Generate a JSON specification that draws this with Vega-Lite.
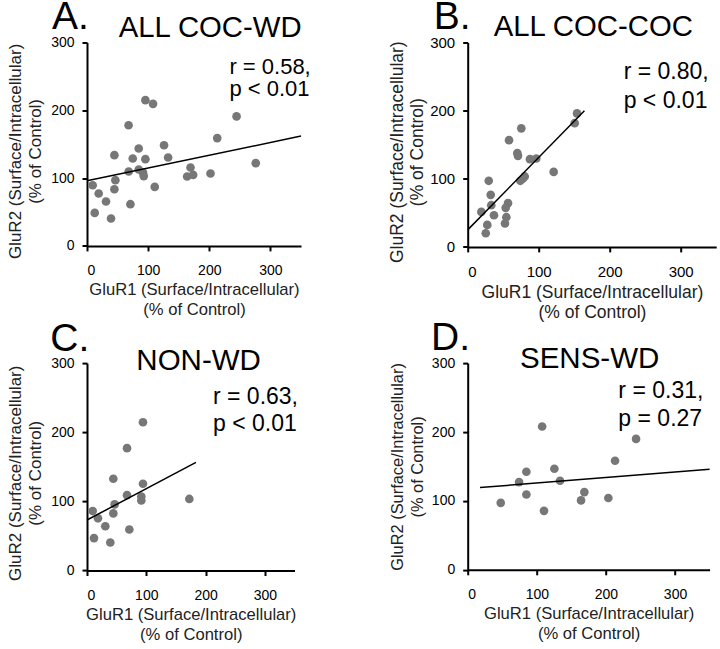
{
  "$schema": "https://vega.github.io/schema/vega-lite/v6.json",
  "background": "white",
  "padding": {"left": 6, "top": -2.5, "right": 0, "bottom": 0},
  "config": {
    "font": "Liberation Sans",
    "view": {"stroke": null},
    "text": {"align": "left", "baseline": "alphabetic", "color": "black"},
    "axis": {
      "grid": false,
      "domainColor": "black",
      "domainWidth": 2,
      "tickColor": "black",
      "tickWidth": 2,
      "tickSize": 5,
      "labelFontSize": 14,
      "labelColor": "black",
      "titleFontSize": 16.6,
      "titleFontWeight": "normal",
      "titleColor": "#222222",
      "titleLineHeight": 20
    },
    "axisX": {"labelPadding": 13, "titlePadding": 4},
    "axisY": {"labelPadding": 8, "titlePadding": 6, "titleFontSize": 17}
  },
  "datasets": {
    "A": [
      {"x": 95.5, "y": 215}, {"x": 108, "y": 209.5}, {"x": 68, "y": 178}, {"x": 244.6, "y": 191},
      {"x": 213, "y": 159}, {"x": 126, "y": 148.5}, {"x": 84.6, "y": 143.6}, {"x": 44.8, "y": 133.8},
      {"x": 74.8, "y": 128.9}, {"x": 95.5, "y": 127.9}, {"x": 132.7, "y": 130.4}, {"x": 68.2, "y": 109.7},
      {"x": 84.6, "y": 112.7}, {"x": 91.7, "y": 108}, {"x": 92.8, "y": 103}, {"x": 169.3, "y": 115.6},
      {"x": 163.8, "y": 102.4}, {"x": 173.6, "y": 104.7}, {"x": 202, "y": 106.8}, {"x": 276, "y": 122},
      {"x": 46.4, "y": 96.9}, {"x": 110.8, "y": 87}, {"x": 9.3, "y": 89.5}, {"x": 44.8, "y": 83.6},
      {"x": 19.1, "y": 77.3}, {"x": 31.1, "y": 65.5}, {"x": 71, "y": 61.5}, {"x": 12.6, "y": 48.7},
      {"x": 39.3, "y": 40.4}
    ],
    "A_line": [{"x": 0, "y": 96}, {"x": 350, "y": 162}],
    "B": [
      {"x": 154, "y": 195.9}, {"x": 150.7, "y": 181.6}, {"x": 75.5, "y": 174}, {"x": 58.2, "y": 156.7},
      {"x": 69.9, "y": 137.6}, {"x": 70.8, "y": 133.6}, {"x": 87.7, "y": 128.8}, {"x": 96.6, "y": 129.8},
      {"x": 121.1, "y": 110.1}, {"x": 80.3, "y": 103.4}, {"x": 74.1, "y": 97}, {"x": 77.5, "y": 100},
      {"x": 29.6, "y": 97}, {"x": 32.4, "y": 76.4}, {"x": 33.2, "y": 61.2}, {"x": 56.8, "y": 64.2},
      {"x": 53.5, "y": 57.3}, {"x": 19.2, "y": 51.4}, {"x": 37, "y": 46.5}, {"x": 54.4, "y": 43.6},
      {"x": 52.5, "y": 34.4}, {"x": 27.6, "y": 32.3}, {"x": 25.4, "y": 20.1}
    ],
    "B_line": [{"x": 0, "y": 25}, {"x": 164.4, "y": 199.7}],
    "C": [
      {"x": 94.4, "y": 214.5}, {"x": 67.5, "y": 177}, {"x": 44.4, "y": 132.7}, {"x": 94.4, "y": 125.5},
      {"x": 67.5, "y": 109}, {"x": 91.6, "y": 107}, {"x": 91.6, "y": 101.3}, {"x": 46.6, "y": 95.6},
      {"x": 44.4, "y": 82.6}, {"x": 9.6, "y": 86}, {"x": 18.5, "y": 75.5}, {"x": 30.9, "y": 64},
      {"x": 71.4, "y": 59.3}, {"x": 11.8, "y": 46.9}, {"x": 39.3, "y": 40.5}, {"x": 172.6, "y": 103.5}
    ],
    "C_line": [{"x": 0, "y": 73}, {"x": 183.8, "y": 156.5}],
    "D": [
      {"x": 107.7, "y": 208}, {"x": 243.6, "y": 190}, {"x": 213.2, "y": 158.3}, {"x": 84.9, "y": 142.3},
      {"x": 125.4, "y": 146.6}, {"x": 74.3, "y": 127.3}, {"x": 133.6, "y": 129.3}, {"x": 84.9, "y": 109.3},
      {"x": 168.8, "y": 112.8}, {"x": 47.8, "y": 97.2}, {"x": 164, "y": 100.7}, {"x": 203.5, "y": 104.2},
      {"x": 110.4, "y": 85.6}
    ],
    "D_line": [{"x": 17.8, "y": 119.4}, {"x": 350, "y": 146}]
  },
  "bounds": "flush",
  "columns": 2,
  "spacing": {"row": 115.6, "column": 166.7},
  "concat": [
    {
      "width": 214, "height": 203.4,
      "layer": [
        {"data": {"name": "A"}, "mark": {"type": "circle", "color": "#777777", "opacity": 1, "size": 75},
         "encoding": {
           "x": {"field": "x", "type": "quantitative", "scale": {"domain": [0, 350], "nice": false, "zero": false}, "axis": {"values": [0, 100, 200, 300], "title": ["GluR1 (Surface/Intracellular)", "(% of Control)"]}},
           "y": {"field": "y", "type": "quantitative", "scale": {"domain": [0, 300], "nice": false, "zero": false}, "axis": {"values": [0, 100, 200, 300], "titleY": 108.4, "title": ["GluR2 (Surface/Intracellular)", "(% of Control)"]}}
         }},
        {"data": {"name": "A_line"}, "mark": {"type": "line", "color": "black", "strokeWidth": 1.5},
         "encoding": {"x": {"field": "x", "type": "quantitative"}, "y": {"field": "y", "type": "quantitative"}}},
        {"data": {"values": [{"t": "A."}]}, "mark": {"type": "text", "fontSize": 39},
         "encoding": {"x": {"datum": -57.3, "type": "quantitative"}, "y": {"datum": 319.6, "type": "quantitative"}, "text": {"field": "t"}}},
        {"data": {"values": [{"t": "ALL COC-WD"}]}, "mark": {"type": "text", "fontSize": 29.3},
         "encoding": {"x": {"datum": 51.9, "type": "quantitative"}, "y": {"datum": 308.8, "type": "quantitative"}, "text": {"field": "t"}}},
        {"data": {"values": [{"t": "r = 0.58,"}]}, "mark": {"type": "text", "fontSize": 22},
         "encoding": {"x": {"datum": 232.9, "type": "quantitative"}, "y": {"datum": 253.2, "type": "quantitative"}, "text": {"field": "t"}}},
        {"data": {"values": [{"t": "p < 0.01"}]}, "mark": {"type": "text", "fontSize": 22},
         "encoding": {"x": {"datum": 232.9, "type": "quantitative"}, "y": {"datum": 221.2, "type": "quantitative"}, "text": {"field": "t"}}}
      ]
    },
    {
      "width": 248.5, "height": 204.4,
      "layer": [
        {"data": {"name": "B"}, "mark": {"type": "circle", "color": "#777777", "opacity": 1, "size": 75},
         "encoding": {
           "x": {"field": "x", "type": "quantitative", "scale": {"domain": [0, 350], "nice": false, "zero": false}, "axis": {"values": [0, 100, 200, 300], "labelFontSize": 15, "titleFontSize": 17.5, "title": ["GluR1 (Surface/Intracellular)", "(% of Control)"]}},
           "y": {"field": "y", "type": "quantitative", "scale": {"domain": [0, 300], "nice": false, "zero": false}, "axis": {"values": [0, 100, 200, 300], "labelFontSize": 15, "titleFontSize": 17.5, "titlePadding": 3, "titleY": 109.2, "title": ["GluR2 (Surface/Intracellular)", "(% of Control)"]}}
         }},
        {"data": {"name": "B_line"}, "mark": {"type": "line", "color": "black", "strokeWidth": 1.5},
         "encoding": {"x": {"field": "x", "type": "quantitative"}, "y": {"field": "y", "type": "quantitative"}}},
        {"data": {"values": [{"t": "B."}]}, "mark": {"type": "text", "fontSize": 39},
         "encoding": {"x": {"datum": -47.9, "type": "quantitative"}, "y": {"datum": 319.7, "type": "quantitative"}, "text": {"field": "t"}}},
        {"data": {"values": [{"t": "ALL COC-COC"}]}, "mark": {"type": "text", "fontSize": 29.3},
         "encoding": {"x": {"datum": 36.6, "type": "quantitative"}, "y": {"datum": 309, "type": "quantitative"}, "text": {"field": "t"}}},
        {"data": {"values": [{"t": "r = 0.80,"}]}, "mark": {"type": "text", "fontSize": 23},
         "encoding": {"x": {"datum": 219.7, "type": "quantitative"}, "y": {"datum": 246, "type": "quantitative"}, "text": {"field": "t"}}},
        {"data": {"values": [{"t": "p < 0.01"}]}, "mark": {"type": "text", "fontSize": 23},
         "encoding": {"x": {"datum": 219.7, "type": "quantitative"}, "y": {"datum": 204.5, "type": "quantitative"}, "text": {"field": "t"}}}
      ]
    },
    {
      "width": 207.5, "height": 207.4,
      "layer": [
        {"data": {"name": "C"}, "mark": {"type": "circle", "color": "#777777", "opacity": 1, "size": 75},
         "encoding": {
           "x": {"field": "x", "type": "quantitative", "scale": {"domain": [0, 350], "nice": false, "zero": false}, "axis": {"values": [0, 100, 200, 300], "title": ["GluR1 (Surface/Intracellular)", "(% of Control)"]}},
           "y": {"field": "y", "type": "quantitative", "scale": {"domain": [0, 300], "nice": false, "zero": false}, "axis": {"values": [0, 100, 200, 300], "titleY": 109.7, "title": ["GluR2 (Surface/Intracellular)", "(% of Control)"]}}
         }},
        {"data": {"name": "C_line"}, "mark": {"type": "line", "color": "black", "strokeWidth": 1.5},
         "encoding": {"x": {"field": "x", "type": "quantitative"}, "y": {"field": "y", "type": "quantitative"}}},
        {"data": {"values": [{"t": "C."}]}, "mark": {"type": "text", "fontSize": 39},
         "encoding": {"x": {"datum": -61.9, "type": "quantitative"}, "y": {"datum": 317, "type": "quantitative"}, "text": {"field": "t"}}},
        {"data": {"values": [{"t": "NON-WD"}]}, "mark": {"type": "text", "fontSize": 29.5},
         "encoding": {"x": {"datum": 83.2, "type": "quantitative"}, "y": {"datum": 290.4, "type": "quantitative"}, "text": {"field": "t"}}},
        {"data": {"values": [{"t": "r = 0.63,"}]}, "mark": {"type": "text", "fontSize": 23},
         "encoding": {"x": {"datum": 212.5, "type": "quantitative"}, "y": {"datum": 241.2, "type": "quantitative"}, "text": {"field": "t"}}},
        {"data": {"values": [{"t": "p < 0.01"}]}, "mark": {"type": "text", "fontSize": 23},
         "encoding": {"x": {"datum": 212.5, "type": "quantitative"}, "y": {"datum": 201.2, "type": "quantitative"}, "text": {"field": "t"}}}
      ]
    },
    {
      "width": 241.9, "height": 206.7,
      "layer": [
        {"data": {"name": "D"}, "mark": {"type": "circle", "color": "#777777", "opacity": 1, "size": 75},
         "encoding": {
           "x": {"field": "x", "type": "quantitative", "scale": {"domain": [0, 350], "nice": false, "zero": false}, "axis": {"values": [0, 100, 200, 300], "title": ["GluR1 (Surface/Intracellular)", "(% of Control)"]}},
           "y": {"field": "y", "type": "quantitative", "scale": {"domain": [0, 300], "nice": false, "zero": false}, "axis": {"values": [0, 100, 200, 300], "titleFontSize": 16.4, "title": ["GluR2 (Surface/Intracellular)", "(% of Control)"]}}
         }},
        {"data": {"name": "D_line"}, "mark": {"type": "line", "color": "black", "strokeWidth": 1.5},
         "encoding": {"x": {"field": "x", "type": "quantitative"}, "y": {"field": "y", "type": "quantitative"}}},
        {"data": {"values": [{"t": "D."}]}, "mark": {"type": "text", "fontSize": 39},
         "encoding": {"x": {"datum": -53.1, "type": "quantitative"}, "y": {"datum": 319.3, "type": "quantitative"}, "text": {"field": "t"}}},
        {"data": {"values": [{"t": "SENS-WD"}]}, "mark": {"type": "text", "fontSize": 29.5},
         "encoding": {"x": {"datum": 75.7, "type": "quantitative"}, "y": {"datum": 292.7, "type": "quantitative"}, "text": {"field": "t"}}},
        {"data": {"values": [{"t": "r = 0.31,"}]}, "mark": {"type": "text", "fontSize": 23},
         "encoding": {"x": {"datum": 218, "type": "quantitative"}, "y": {"datum": 248.8, "type": "quantitative"}, "text": {"field": "t"}}},
        {"data": {"values": [{"t": "p = 0.27"}]}, "mark": {"type": "text", "fontSize": 23},
         "encoding": {"x": {"datum": 218, "type": "quantitative"}, "y": {"datum": 208, "type": "quantitative"}, "text": {"field": "t"}}}
      ]
    }
  ]
}
